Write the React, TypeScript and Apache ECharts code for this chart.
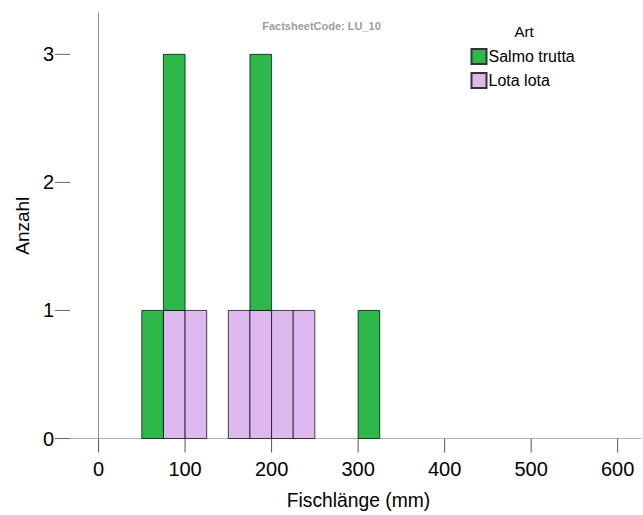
import React, { useEffect, useRef } from "react";
import * as echarts from "echarts";

const binStarts = [50, 75, 100, 150, 175, 200, 225, 300];
const binWidth = 25;
const salmoTrutta = [1, 2, 0, 0, 2, 0, 0, 1];
const lotaLota = [0, 1, 1, 1, 1, 1, 1, 0];
const xTicks = [0, 100, 200, 300, 400, 500, 600];
const yTicks = [0, 1, 2, 3];
const seriesNames = ["Salmo trutta", "Lota lota"];
const colors = { salmo: "#2eb84b", lota: "#ddb9f0" };
const X_MIN = -33;
const X_MAX = 627;
const Y_MAX = 3.323;

const FONT = "'Liberation Sans', Arial, sans-serif";

export default function App() {
  const ref = useRef<HTMLDivElement>(null);
  useEffect(() => {
    if (!ref.current) return;
    const chart = echarts.init(ref.current, undefined, { renderer: "svg" });

    const lotaData: number[][] = [];
    const salmoData: number[][] = [];
    binStarts.forEach((s, i) => {
      const l = lotaLota[i];
      const t = salmoTrutta[i];
      if (l > 0) lotaData.push([s, s + binWidth, 0, l]);
      if (t > 0) salmoData.push([s, s + binWidth, l, l + t]);
    });

    const makeRender = (fill: string) => (params: any, api: any) => {
      const p0 = api.coord([api.value(0), api.value(3)]);
      const p1 = api.coord([api.value(1), api.value(2)]);
      return {
        type: "rect",
        shape: { x: p0[0], y: p0[1], width: p1[0] - p0[0], height: p1[1] - p0[1] },
        style: { fill, stroke: "rgba(0,0,0,0.72)", lineWidth: 1 },
      };
    };

    chart.setOption({
      animation: false,
      grid: { left: 70, right: 2, top: 13, bottom: 73.3 },
      xAxis: {
        type: "value",
        min: X_MIN,
        max: X_MAX,
        name: "Fischlänge (mm)",
        nameLocation: "middle",
        nameGap: 52.5,
        nameTextStyle: { fontFamily: FONT, fontSize: 19.3, color: "#000", padding: [0, 0, 0, 6] },
        splitLine: { show: false },
        axisLine: { lineStyle: { color: "#b5b5b5", width: 1 } },
        axisTick: { show: false },
        axisLabel: {
          customValues: xTicks,
          fontFamily: FONT,
          fontSize: 20,
          color: "#000",
          margin: 20,
        },
      },
      yAxis: {
        type: "value",
        min: 0,
        max: Y_MAX,
        name: "Anzahl",
        nameLocation: "middle",
        nameGap: 38,
        nameTextStyle: { fontFamily: FONT, fontSize: 19, color: "#000" },
        splitLine: { show: false },
        axisLine: { show: true, lineStyle: { color: "#8c8c8c", width: 1 } },
        axisTick: { show: false },
        axisLabel: {
          customValues: yTicks,
          fontFamily: FONT,
          fontSize: 20,
          color: "#000",
          margin: 16,
        },
      },
      legend: {
        data: seriesNames,
        orient: "vertical",
        left: 470.5,
        top: 48,
        itemWidth: 15,
        itemHeight: 15,
        itemGap: 7,
        icon: "rect",
        textStyle: { fontFamily: FONT, fontSize: 16, color: "#000", padding: [0, 0, 0, -3] },
        padding: 0,
      },
      graphic: [
        {
          type: "text",
          x: 321.5,
          y: 25.7,
          style: {
            text: "FactsheetCode: LU_10",
            font: `bold 11px ${FONT}`,
            fill: "#9c9c9c",
            align: "center",
            verticalAlign: "middle",
          },
        },
        {
          type: "text",
          x: 524,
          y: 31,
          style: {
            text: "Art",
            font: `15px ${FONT}`,
            fill: "#000",
            align: "center",
            verticalAlign: "middle",
          },
        },
      ],
      series: [
        {
          type: "custom",
          name: "Lota lota",
          renderItem: makeRender(colors.lota),
          encode: { x: [0, 1], y: [2, 3] },
          data: lotaData,
          itemStyle: { color: colors.lota, borderColor: "#333", borderWidth: 1 },
        },
        {
          type: "custom",
          name: "Salmo trutta",
          renderItem: makeRender(colors.salmo),
          encode: { x: [0, 1], y: [2, 3] },
          data: salmoData,
          itemStyle: { color: colors.salmo, borderColor: "#333", borderWidth: 1 },
        },
        {
          type: "custom",
          name: "xTicks",
          silent: true,
          clip: false,
          renderItem: (params: any, api: any) => {
            const p = api.coord([api.value(0), 0]);
            return {
              type: "line",
              shape: { x1: p[0], y1: p[1], x2: p[0], y2: p[1] + 14 },
              style: { stroke: "#555", lineWidth: 1 },
            };
          },
          encode: { x: 0 },
          data: xTicks.map((v) => [v]),
        },
        {
          type: "custom",
          name: "yTicks",
          silent: true,
          clip: false,
          renderItem: (params: any, api: any) => {
            const p = api.coord([X_MIN, api.value(0)]);
            return {
              type: "line",
              shape: { x1: p[0] - 15, y1: p[1], x2: p[0], y2: p[1] },
              style: { stroke: "#666", lineWidth: 1 },
            };
          },
          encode: { y: 0 },
          data: yTicks.map((v) => [v]),
        },
      ],
    });
    return () => chart.dispose();
  }, []);
  return <div ref={ref} style={{ width: 643, height: 515, position: "absolute", left: 0, top: 0 }} />;
}
